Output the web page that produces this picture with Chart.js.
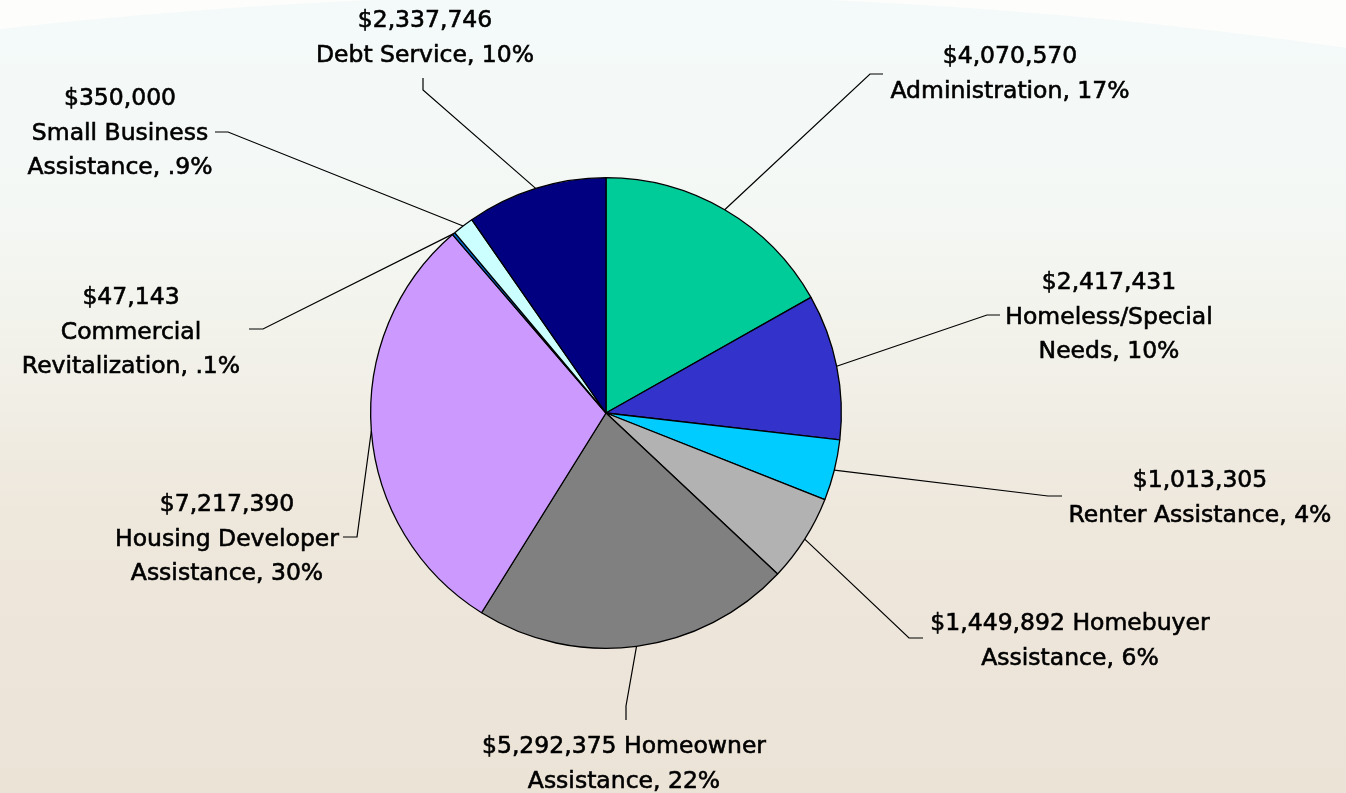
<!DOCTYPE html>
<html>
<head>
<meta charset="utf-8">
<script src="https://cdn.jsdelivr.net/npm/chart.js@4.4.1/dist/chart.umd.min.js"></script>
<style>
    html, body { margin: 0; padding: 0; background: #ffffff; }
    #budgetChart { display: block; }
</style>
</head>
<body>
<canvas id="budgetChart" width="1346" height="793"></canvas>
<script>
// Données du graphique (ordre horaire depuis midi)
const categories = [
    'Administration',
    'Homeless/Special\nNeeds',
    'Renter Assistance',
    'Homebuyer\nAssistance',
    'Homeowner\nAssistance',
    'Housing Developer\nAssistance',
    'Commercial\nRevitalization',
    'Small Business\nAssistance',
    'Debt Service'
];
const amounts = [4070570, 2417431, 1013305, 1449892, 5292375, 7217390, 47143, 350000, 2337746];
const percentLabels = ['17%', '10%', '4%', '6%', '22%', '30%', '.1%', '.9%', '10%'];
// séparateur entre le montant et le nom
const amountSeparators = ['\n', '\n', '\n', ' ', ' ', '\n', '\n', '\n', '\n'];

const sliceColors = ['#00CC99', '#3333CC', '#00CCFF', '#B2B2B2', '#808080', '#CC99FF', '#0066CC', '#CCFFFF', '#000080'];

// Placement des étiquettes, relatif au centre du camembert
// elbow = coude de la ligne, tail = petit segment final, text = centre x / première ligne y
const labelLayout = [
    { elbow: [264, -339], tail: [13, 0], text: [404, -356] },
    { elbow: [381, -98], tail: [13, 0], text: [503, -130] },
    { elbow: [442, 83], tail: [14, 0], text: [594, 68] },
    { elbow: [303, 225], tail: [14, 0], text: [464, 211] },
    { elbow: [20, 293], tail: [0, 14], text: [18, 334] },
    { elbow: [-249, 124], tail: [-14, 0], text: [-379, 92] },
    { elbow: [-343, -84], tail: [-14, 0], text: [-475, -115] },
    { elbow: [-378, -281], tail: [-13, 0], text: [-486, -314] },
    { elbow: [-183, -323], tail: [0, -12], text: [-181, -392] }
];

function labelText(i) {
    const amount = '$' + amounts[i].toLocaleString('en-US');
    return (amount + amountSeparators[i] + categories[i] + ', ' + percentLabels[i]).split('\n');
}

// Fond dégradé avec l'arc clair en haut
const backgroundPlugin = {
    id: 'slideBackground',
    beforeDraw(chart) {
        const ctx = chart.ctx;
        const w = chart.width, h = chart.height;
        ctx.save();
        ctx.fillStyle = '#FDFDFB';
        ctx.fillRect(0, 0, w, h);
        const grad = ctx.createLinearGradient(0, 0, 0, h);
        grad.addColorStop(0, '#F4FAFA');
        grad.addColorStop(0.25, '#F4F8F5');
        grad.addColorStop(0.45, '#F2F1E9');
        grad.addColorStop(0.65, '#EEE7DC');
        grad.addColorStop(1, '#ECE3D7');
        ctx.fillStyle = grad;
        ctx.beginPath();
        ctx.arc(600, 5295, 5300, 0, Math.PI * 2);
        ctx.fill();
        ctx.restore();
    }
};

// Étiquettes avec lignes de rappel
const leaderLabelsPlugin = {
    id: 'leaderLabels',
    afterDatasetsDraw(chart) {
        const ctx = chart.ctx;
        const meta = chart.getDatasetMeta(0);
        ctx.save();
        ctx.strokeStyle = '#000000';
        ctx.fillStyle = '#000000';
        ctx.font = '23.5px "DejaVu Sans", Verdana, sans-serif';
        ctx.textAlign = 'center';
        ctx.textBaseline = 'middle';

        meta.data.forEach((arc, i) => {
            const p = arc.getProps(['x', 'y', 'startAngle', 'endAngle', 'outerRadius'], true);
            const mid = (p.startAngle + p.endAngle) / 2;
            const sx = p.x + Math.cos(mid) * p.outerRadius;
            const sy = p.y + Math.sin(mid) * p.outerRadius;
            const layout = labelLayout[i];
            const ex = p.x + layout.elbow[0];
            const ey = p.y + layout.elbow[1];

            ctx.lineWidth = 1.2;
            ctx.beginPath();
            ctx.moveTo(sx, sy);
            ctx.lineTo(ex, ey);
            ctx.lineTo(ex + layout.tail[0], ey + layout.tail[1]);
            ctx.stroke();

            // léger contour pour épaissir le texte
            ctx.lineWidth = 0.6;
            const lines = labelText(i);
            lines.forEach((line, k) => {
                const tx = p.x + layout.text[0];
                const ty = p.y + layout.text[1] + k * 34.5;
                ctx.fillText(line, tx, ty);
                ctx.strokeText(line, tx, ty);
            });
        });
        ctx.restore();
    }
};

document.addEventListener('DOMContentLoaded', function() {
    const canvas = document.getElementById('budgetChart');
    new Chart(canvas, {
        type: 'pie',
        data: {
            labels: categories,
            datasets: [{
                data: amounts,
                backgroundColor: sliceColors,
                borderColor: '#000000',
                borderWidth: 1.3
            }]
        },
        options: {
            responsive: false,
            animation: false,
            layout: {
                padding: { left: 370, right: 504, top: 177, bottom: 144 }
            },
            plugins: {
                legend: { display: false },
                tooltip: { enabled: false }
            }
        },
        plugins: [backgroundPlugin, leaderLabelsPlugin]
    });
});
</script>
</body>
</html>
